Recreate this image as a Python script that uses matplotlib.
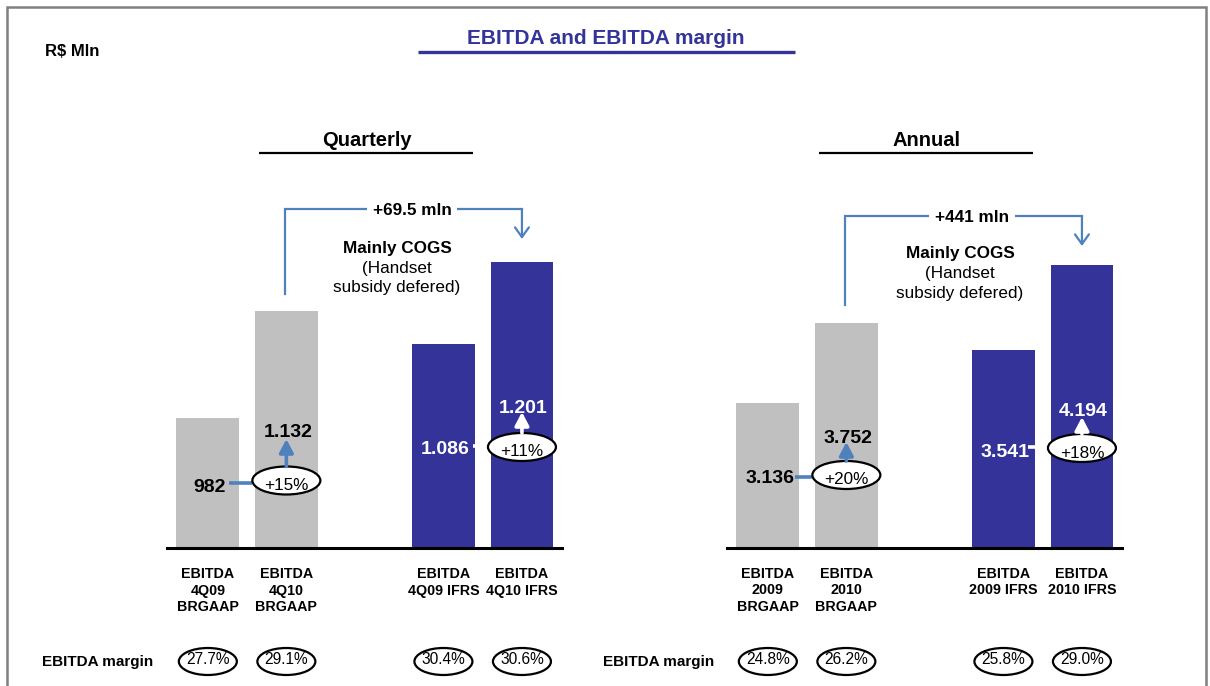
import matplotlib
matplotlib.use('Agg')
import matplotlib.pyplot as plt
from matplotlib.patches import Ellipse, ArrowStyle

plt.rcParams['font.family'] = ['Liberation Sans', 'DejaVu Sans']

# ---------------- data ----------------
q_categories = ['EBITDA\n4Q09\nBRGAAP', 'EBITDA\n4Q10\nBRGAAP', 'EBITDA\n4Q09 IFRS', 'EBITDA\n4Q10 IFRS']
q_values = [982, 1132, 1086, 1201]
q_labels = ['982', '1.132', '1.086', '1.201']
q_growth = ['+15%', '+11%']
q_margins = ['27.7%', '29.1%', '30.4%', '30.6%']
q_delta = '+69.5 mln'

a_categories = ['EBITDA\n2009\nBRGAAP', 'EBITDA\n2010\nBRGAAP', 'EBITDA\n2009 IFRS', 'EBITDA\n2010 IFRS']
a_values = [3136, 3752, 3541, 4194]
a_labels = ['3.136', '3.752', '3.541', '4.194']
a_growth = ['+20%', '+18%']
a_margins = ['24.8%', '26.2%', '25.8%', '29.0%']
a_delta = '+441 mln'

note_lines = ['Mainly COGS', '(Handset', 'subsidy defered)']
# --------------------------------------

positions = [0, 1, 3, 4]
bar_colors = ['#C0C0C0', '#C0C0C0', '#333399', '#333399']
NAVY = '#333399'
STEEL = '#4F81BD'

W, H = 1210, 686
fig = plt.figure(figsize=(W / 100, H / 100), dpi=100)


def rect(x0, y_top, x1, y_bot):
    return [x0 / W, 1 - y_bot / H, (x1 - x0) / W, (y_bot - y_top) / H]


ov = None


def make_bar_axes(x0, x1, values, ylim):
    ax = fig.add_axes(rect(x0, 100, x1, 548))
    ax.bar(positions, values, width=0.8, color=bar_colors, zorder=2)
    ax.set_xlim(-0.52, 4.51)
    ax.set_ylim(*ylim)
    for s in ['top', 'left', 'right']:
        ax.spines[s].set_visible(False)
    ax.spines['bottom'].set_linewidth(2.2)
    ax.spines['bottom'].set_color('black')
    ax.spines['bottom'].set_zorder(3)
    ax.set_xticks([])
    ax.set_yticks([])
    ax.patch.set_alpha(0)
    return ax


ax_q = make_bar_axes(167, 562, q_values, (800, 1428))
ax_a = make_bar_axes(727, 1122, a_values, (2020, 5466))

ov = fig.add_axes([0, 0, 1, 1], zorder=10)
ov.set_xlim(0, W)
ov.set_ylim(H, 0)
ov.axis('off')
ov.patch.set_alpha(0)


def centers(ax):
    return [ax.transData.transform((p, 0))[0] for p in positions]


def up_arrow(x, y0, y1, color):
    ov.annotate('', xy=(x, y1), xytext=(x, y0),
                arrowprops=dict(arrowstyle=ArrowStyle('-|>', head_length=0.8, head_width=0.42),
                                mutation_scale=10, color=color, lw=2.6,
                                shrinkA=0, shrinkB=0))


def ellipse(x, y, w, h, lw=1.6):
    ov.add_patch(Ellipse((x, y), w, h, facecolor='white', edgecolor='black', lw=lw, zorder=3))


def panel(ax, labels, cats, growth, margins, delta, title, L):
    cx = centers(ax)
    # category labels
    for i, c in enumerate(cats):
        for j, line in enumerate(c.split('\n')):
            ov.text(cx[i], 578 + j * 16.5, line, ha='center', va='baseline',
                    fontsize=10.3, fontweight='bold', color='black')
    # margin ellipses
    for i, m in enumerate(margins):
        ellipse(cx[i], 661.5, 58, 27)
        ov.text(cx[i], 663.5, m, ha='center', va='baseline', fontsize=11.2,
                color='black', zorder=4)
    ov.text(L['margin_x'], 666, 'EBITDA margin', ha='left', va='baseline',
            fontsize=11, fontweight='bold')
    # header
    mid = (ax.transAxes.transform((0, 0))[0] + ax.transAxes.transform((1, 0))[0]) / 2
    ov.text(mid + 2, 146, title, ha='center', va='baseline', fontsize=14.5, fontweight='bold')
    ov.plot([mid - 106, mid + 108], [153, 153], color='black', lw=1.6, solid_capstyle='butt')

    # gray pair
    g_ell_y = L['g_ell']
    ov.plot([L['g_conn'], cx[1] - 34], [g_ell_y + 2, g_ell_y + 2], color=STEEL, lw=2.6,
            solid_capstyle='butt', zorder=2)
    ov.text(cx[0] + 2, L['g_lab0'], labels[0], ha='center', va='baseline', fontsize=14,
            fontweight='bold', color='black')
    ellipse(cx[1], g_ell_y, 68, 28)
    ov.text(cx[1], g_ell_y + 9.5, growth[0], ha='center', va='baseline', fontsize=12.3, zorder=4)
    up_arrow(cx[1], g_ell_y - 14, L['g_arrow_top'], STEEL)
    ov.text(cx[1] + 2, L['g_lab1'], labels[1], ha='center', va='baseline', fontsize=14,
            fontweight='bold', color='black')

    # blue pair
    b_ell_y = L['b_ell']
    ov.plot([L['b_conn'], cx[3] - 34], [b_ell_y - 1, b_ell_y - 1], color='white', lw=2.6,
            solid_capstyle='butt', zorder=2)
    ov.text(cx[2] + 2, L['b_lab0'], labels[2], ha='center', va='baseline', fontsize=14,
            fontweight='bold', color='white')
    ellipse(cx[3], b_ell_y, 68, 28)
    ov.text(cx[3], b_ell_y + 9.5, growth[1], ha='center', va='baseline', fontsize=12.3, zorder=4)
    up_arrow(cx[3], b_ell_y - 14, L['b_arrow_top'], 'white')
    ov.text(cx[3] + 1, L['b_lab1'], labels[3], ha='center', va='baseline', fontsize=14,
            fontweight='bold', color='white')

    # bracket
    yt = L['br_top']
    ov.plot([cx[1] - 1, cx[1] - 1, cx[3]], [L['br_left_bot'], yt, yt], color=STEEL, lw=1.6,
            solid_joinstyle='miter')
    ov.annotate('', xy=(cx[3], L['br_tip']), xytext=(cx[3], yt),
                arrowprops=dict(arrowstyle=ArrowStyle('->', head_length=0.7, head_width=0.5),
                                mutation_scale=10, color=STEEL, lw=1.6, shrinkA=0, shrinkB=0))
    ov.text(L['delta_x'], yt + 6, delta, ha='center', va='baseline', fontsize=12.3,
            fontweight='bold', bbox=dict(boxstyle='square,pad=0.35', fc='white', ec='none'))
    # note
    for j, t in enumerate(note_lines):
        ov.text(L['note_x'], L['note_y'][j], t, ha='center', va='baseline', fontsize=12.3,
                fontweight='bold' if j == 0 else 'normal')


panel(ax_q, q_labels, q_categories, q_growth, q_margins, q_delta, 'Quarterly',
      dict(margin_x=42, g_ell=480.5, g_conn=229, g_lab0=492, g_arrow_top=439, g_lab1=437,
           b_ell=447, b_conn=473, b_lab0=454, b_arrow_top=412, b_lab1=413,
           br_top=209, br_left_bot=294, br_tip=239, delta_x=412,
           note_x=397, note_y=[253, 273, 292]))
panel(ax_a, a_labels, a_categories, a_growth, a_margins, a_delta, 'Annual',
      dict(margin_x=603, g_ell=475, g_conn=795, g_lab0=483, g_arrow_top=442, g_lab1=443,
           b_ell=448, b_conn=1028, b_lab0=457, b_arrow_top=417, b_lab1=416,
           br_top=216, br_left_bot=305, br_tip=246, delta_x=972,
           note_x=960, note_y=[258, 278, 298]))

# title and unit
ov.text(606, 44, 'EBITDA and EBITDA margin', ha='center', va='baseline', fontsize=15,
        fontweight='bold', color=NAVY)
ov.plot([418, 795], [52, 52], color=NAVY, lw=2.4, solid_capstyle='butt')
ov.text(45, 56, 'R$ Mln', ha='left', va='baseline', fontsize=12, fontweight='bold')

# slide border
ov.plot([7, 7, 1206, 1206], [H + 2, 7, 7, H + 2], color='#808080', lw=1.8,
        solid_joinstyle='miter', clip_on=False)

fig.savefig('out.png', dpi=100)
